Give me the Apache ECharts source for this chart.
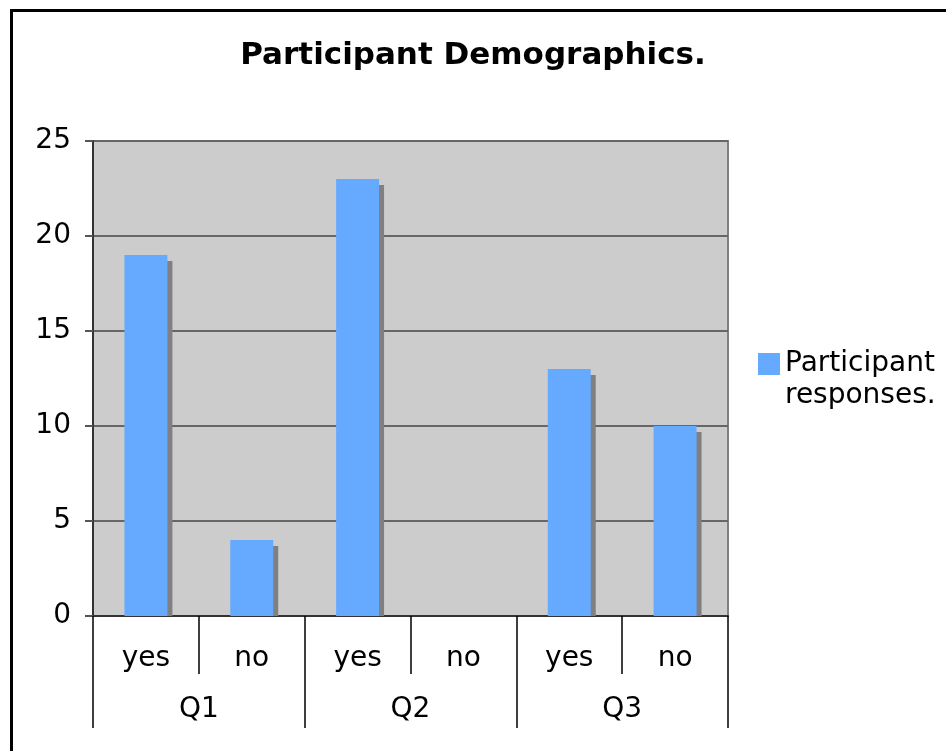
<!DOCTYPE html>
<html>
<head>
<meta charset="utf-8">
<script src="https://cdn.jsdelivr.net/npm/echarts@6/dist/echarts.min.js"></script>
<style>
html,body{margin:0;padding:0;background:#fff;overflow:hidden;}
#frame{position:absolute;left:10px;top:9px;width:1000px;height:1000px;border:3px solid #000;}
#chart{position:absolute;left:0;top:0;width:946px;height:751px;}
</style>
</head>
<body>
<div id="frame"></div>
<div id="chart"></div>
<script>
const answers = ['yes', 'no', 'yes', 'no', 'yes', 'no'];
const questions = ['Q1', 'Q2', 'Q3'];
const responses = [19, 4, 23, 0, 13, 10];
const yTicks = { min: 0, max: 25, interval: 5 };
const seriesName = 'Participant responses.';

const FONT = 'DejaVu Sans';
const chart = echarts.init(document.getElementById('chart'), null, { renderer: 'canvas' });

chart.setOption({
  animation: false,
  title: {
    text: 'Participant Demographics.',
    left: 'center',
    top: 35,
    padding: 5,
    textStyle: { fontFamily: FONT, fontSize: 31, fontWeight: 'bold', color: '#000' }
  },
  legend: {
    data: [{ name: seriesName, icon: 'rect' }],
    left: 758,
    top: 316,
    padding: 0,
    itemWidth: 22,
    itemHeight: 22,
    itemGap: 7,
    formatter: () => '\nParticipant\nresponses.',
    textStyle: { fontFamily: FONT, fontSize: 28, color: '#000', lineHeight: 32 }
  },
  grid: {
    left: 93, right: 218, top: 141, bottom: 135,
    show: true, backgroundColor: '#cccccc', borderColor: '#808080', borderWidth: 2
  },
  xAxis: [
    {
      type: 'category',
      data: answers,
      position: 'bottom',
      boundaryGap: true,
      axisLine: { show: true, lineStyle: { color: '#333', width: 2 } },
      axisTick: { show: true, interval: 0, length: 58, lineStyle: { color: '#000', width: 1.5 } },
      axisLabel: { interval: 0, margin: 29, fontFamily: FONT, fontSize: 28, color: '#000' },
      splitLine: { show: false }
    },
    {
      type: 'category',
      data: questions,
      position: 'bottom',
      offset: 0,
      boundaryGap: true,
      axisLine: { show: false },
      axisTick: { show: true, interval: 0, length: 112, lineStyle: { color: '#000', width: 1.5 } },
      axisLabel: { interval: 0, margin: 80, fontFamily: FONT, fontSize: 28, color: '#000' },
      splitLine: { show: false }
    }
  ],
  yAxis: {
    type: 'value',
    min: yTicks.min, max: yTicks.max, interval: yTicks.interval,
    axisLine: { show: true, lineStyle: { color: '#333', width: 2 } },
    axisTick: { show: true, length: 8, lineStyle: { color: '#555', width: 2 } },
    axisLabel: { margin: 22, fontFamily: FONT, fontSize: 28, color: '#000' },
    splitLine: { show: true, lineStyle: { color: '#666', width: 2 } }
  },
  series: [{
    name: seriesName,
    type: 'custom',
    xAxisIndex: 0,
    yAxisIndex: 0,
    itemStyle: { color: '#66aaff' },
    data: responses.map((v, i) => [i, v]),
    encode: { x: 0, y: 1 },
    renderItem: function (params, api) {
      const idx = api.value(0);
      const val = api.value(1);
      const top = api.coord([idx, val]);
      const base = api.coord([idx, 0]);
      const bw = api.size([1, 0])[0] * 0.406;
      const h = base[1] - top[1];
      const children = [];
      if (h > 6) {
        children.push({
          type: 'rect',
          shape: { x: top[0] - bw / 2 + 5, y: top[1] + 6, width: bw, height: h - 6 },
          style: { fill: '#808080' }
        });
      }
      if (h > 0) {
        children.push({
          type: 'rect',
          shape: { x: top[0] - bw / 2, y: top[1], width: bw, height: h },
          style: { fill: '#66aaff' }
        });
      }
      return { type: 'group', children: children };
    }
  }]
});
</script>
</body>
</html>
